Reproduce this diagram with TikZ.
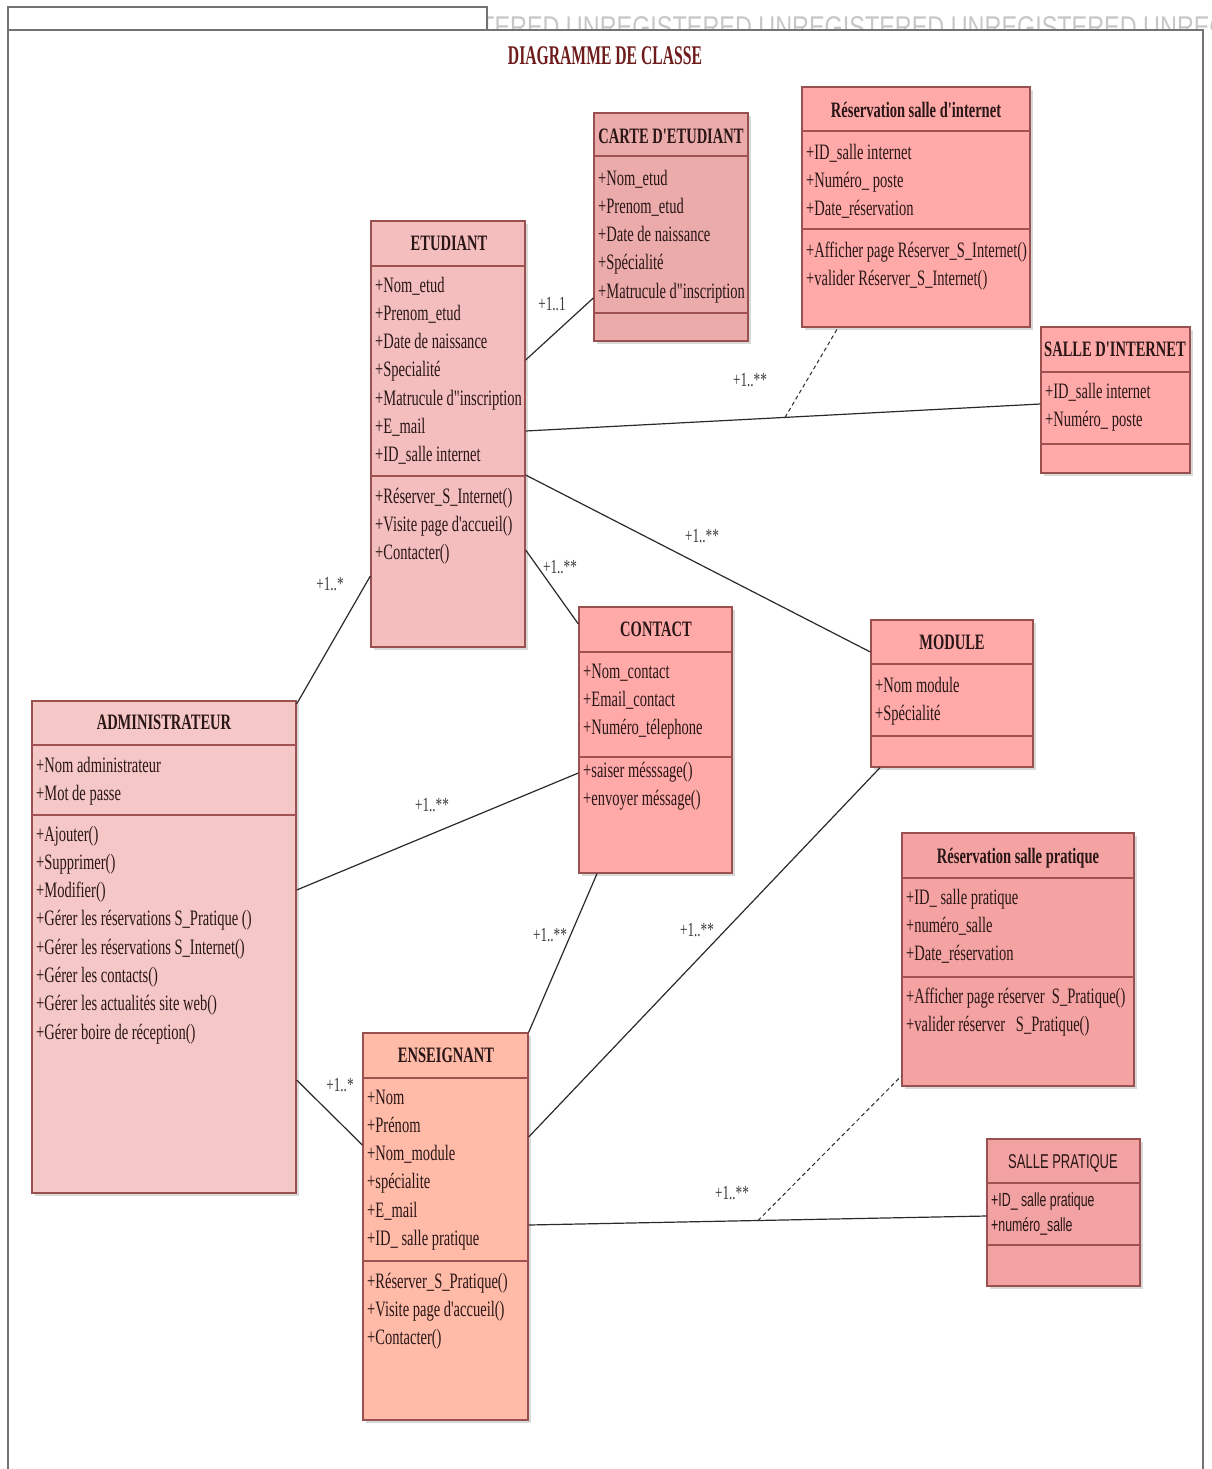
\documentclass[tikz,border=0pt]{standalone}
\usepackage{fontspec}
\setmainfont{Liberation Serif}
\newfontfamily\cond[FakeStretch=0.66]{Liberation Serif}
\newfontfamily\condt[FakeStretch=0.58]{Liberation Serif}
\newfontfamily\condsans[FakeStretch=0.65]{Liberation Sans}
\newfontfamily\wmfont[FakeStretch=0.78]{Liberation Sans}
\usetikzlibrary{fit,shadows}
\definecolor{bordc}{HTML}{9B5050}
\definecolor{sepc}{HTML}{A05252}
\definecolor{txtc}{HTML}{2A1616}
\definecolor{titc}{HTML}{6E1B1B}
\definecolor{linec}{HTML}{2A2A2A}
\definecolor{multc}{HTML}{3A3A3A}
\definecolor{cEtud}{HTML}{F4BEBE}
\definecolor{cCarte}{HTML}{EBABAB}
\definecolor{cRes}{HTML}{FFA9A9}
\definecolor{cAdmin}{HTML}{F5C7C7}
\definecolor{cResP}{HTML}{F4A2A2}
\definecolor{cEns}{HTML}{FFBAA8}
\definecolor{cSP}{HTML}{F2A2A2}
\tikzset{
  classbox/.style={draw=bordc, line width=1.3pt, inner sep=0pt,
    drop shadow={shadow xshift=3pt, shadow yshift=-3pt, opacity=0.15, fill=black}},
  sepline/.style={draw=sepc, line width=2pt},
  hdr/.style={font=\cond\bfseries\fontsize{22}{26}\selectfont, text=txtc, inner sep=0pt,
    text height=15pt, text depth=4pt},
  attr/.style={font=\cond\fontsize{22}{28.3}\selectfont, text=txtc, inner sep=0pt,
    align=left, anchor=base west},
  sattr/.style={font=\condsans\fontsize{19}{25}\selectfont, text=txtc, inner sep=0pt,
    align=left, anchor=base west},
  mult/.style={font=\cond\fontsize{20}{22}\selectfont, text=multc, inner sep=0pt},
  assoc/.style={draw=linec, line width=1.2pt},
  dep/.style={draw=linec, line width=1pt, dash pattern=on 4pt off 3pt}
}
\begin{document}
\begin{tikzpicture}[x=1pt,y=-1pt]
\useasboundingbox (0,0) rectangle (1211,1469);
\fill[white] (0,0) rectangle (1211,1469);
% watermark
\begin{scope}
\clip (487,6) rectangle (1211,30);
\node[font=\wmfont\fontsize{30}{30}\selectfont, text=black!22, anchor=base west, inner sep=0pt] (wm) at (480,38) {TERED UNREGISTERED UNREGISTERED UNREGISTERED UNREGISTERED};
\end{scope}
% frame
\draw[draw=black!55, line width=1.5pt] (8,7) rectangle (487,30);
\draw[draw=black!55, line width=1.5pt] (8,1475) -- (8,30) -- (1203,30) -- (1203,1475);
\node[font=\condt\bfseries\fontsize{27}{30}\selectfont, text=titc, inner sep=0pt] (title) at (605,56) {DIAGRAMME DE CLASSE};

% ETUDIANT
\node[classbox, fill=cEtud, fit={(371,221) (525,647)}] (etud) {};
\draw[sepline] (371,266) -- (525,266);
\draw[sepline] (371,476) -- (525,476);
\node[hdr] (etud-h) at (449,245) {ETUDIANT};
\node[attr] (etud-a) at (375,461.8) {+Nom\_etud\\+Prenom\_etud\\+Date de naissance\\+Specialité\\+Matrucule d"inscription\\+E\_mail\\+ID\_salle internet};
\node[attr] (etud-o) at (375,559.6) {+Réserver\_S\_Internet()\\+Visite page d'accueil()\\+Contacter()};

% CARTE D'ETUDIANT
\node[classbox, fill=cCarte, fit={(594,113) (748,341)}] (carte) {};
\draw[sepline] (594,156) -- (748,156);
\draw[sepline] (594,313) -- (748,313);
\node[hdr] (carte-h) at (671,138) {CARTE D'ETUDIANT};
\node[attr] (carte-a) at (598,298.2) {+Nom\_etud\\+Prenom\_etud\\+Date de naissance\\+Spécialité\\+Matrucule d"inscription};

% Reservation salle d'internet
\node[classbox, fill=cRes, fit={(802,87) (1030,327)}] (resint) {};
\draw[sepline] (802,131) -- (1030,131);
\draw[sepline] (802,229) -- (1030,229);
\node[hdr] (resint-h) at (916,112) {Réservation salle d'internet};
\node[attr] (resint-a) at (806,215.6) {+ID\_salle internet\\+Numéro\_ poste\\+Date\_réservation};
\node[attr] (resint-o) at (806,285.3) {+Afficher page Réserver\_S\_Internet()\\+valider Réserver\_S\_Internet()};

% SALLE D'INTERNET
\node[classbox, fill=cRes, fit={(1041,327) (1190,473)}] (sint) {};
\draw[sepline] (1041,372) -- (1190,372);
\draw[sepline] (1041,444) -- (1190,444);
\node[hdr] (sint-h) at (1115,351) {SALLE D'INTERNET};
\node[attr] (sint-a) at (1045,426.3) {+ID\_salle internet\\+Numéro\_ poste};

% MODULE
\node[classbox, fill=cRes, fit={(871,620) (1033,767)}] (module) {};
\draw[sepline] (871,664) -- (1033,664);
\draw[sepline] (871,736) -- (1033,736);
\node[hdr] (module-h) at (952,644) {MODULE};
\node[attr] (module-a) at (875,720.3) {+Nom module\\+Spécialité};

% CONTACT
\node[classbox, fill=cRes, fit={(579,607) (732,873)}] (contact) {};
\draw[sepline] (579,652) -- (732,652);
\draw[sepline] (579,757) -- (732,757);
\node[hdr] (contact-h) at (656,631) {CONTACT};
\node[attr] (contact-a) at (583,734.6) {+Nom\_contact\\+Email\_contact\\+Numéro\_télephone};
\node[attr] (contact-o) at (583,805.3) {+saiser mésssage()\\+envoyer méssage()};

% ADMINISTRATEUR
\node[classbox, fill=cAdmin, fit={(32,701) (296,1193)}] (admin) {};
\draw[sepline] (32,745) -- (296,745);
\draw[sepline] (32,815) -- (296,815);
\node[hdr] (admin-h) at (164,724) {ADMINISTRATEUR};
\node[attr] (admin-a) at (36,800.3) {+Nom administrateur\\+Mot de passe};
\node[attr] (admin-o) at (36,1039.1) {+Ajouter()\\+Supprimer()\\+Modifier()\\+Gérer les réservations S\_Pratique ()\\+Gérer les réservations S\_Internet()\\+Gérer les contacts()\\+Gérer les actualités site web()\\+Gérer boire de réception()};

% Reservation salle pratique
\node[classbox, fill=cResP, fit={(902,833) (1134,1086)}] (respr) {};
\draw[sepline] (902,878) -- (1134,878);
\draw[sepline] (902,977) -- (1134,977);
\node[hdr] (respr-h) at (1018,858) {Réservation salle pratique};
\node[attr] (respr-a) at (906,960.6) {+ID\_ salle pratique\\+numéro\_salle\\+Date\_réservation};
\node[attr] (respr-o) at (906,1031.3) {+Afficher page réserver\ \ S\_Pratique()\\+valider réserver\ \ \ S\_Pratique()};

% ENSEIGNANT
\node[classbox, fill=cEns, fit={(363,1033) (528,1420)}] (ens) {};
\draw[sepline] (363,1078) -- (528,1078);
\draw[sepline] (363,1261) -- (528,1261);
\node[hdr] (ens-h) at (446,1057) {ENSEIGNANT};
\node[attr] (ens-a) at (367,1245.5) {+Nom\\+Prénom\\+Nom\_module\\+spécialite\\+E\_mail\\+ID\_ salle pratique};
\node[attr] (ens-o) at (367,1344.6) {+Réserver\_S\_Pratique()\\+Visite page d'accueil()\\+Contacter()};

% SALLE PRATIQUE
\node[classbox, fill=cSP, fit={(987,1139) (1140,1286)}] (sprat) {};
\draw[sepline] (987,1183) -- (1140,1183);
\draw[sepline] (987,1245) -- (1140,1245);
\node[font=\condsans\fontsize{20}{24}\selectfont, text=txtc, inner sep=0pt, text height=15pt, text depth=4pt] (sprat-h) at (1063,1163) {SALLE PRATIQUE};
\node[sattr] (sprat-a) at (991,1231) {+ID\_ salle pratique\\+numéro\_salle};

% associations
\draw[assoc] (etud.east |- 0,360) -- (carte.west |- 0,298);
\draw[assoc] (etud.east |- 0,431) -- (sint.west |- 0,404);
\coordinate (d1) at (785,417.4);
\draw[dep] (d1) -- (resint.south -| 838,0);
\draw[assoc] (etud.east |- 0,475) -- (module.west |- 0,652);
\draw[assoc] (etud.east |- 0,550) -- (contact.west |- 0,624);
\draw[assoc] (admin.east |- 0,704) -- (etud.west |- 0,576);
\draw[assoc] (admin.east |- 0,890) -- (contact.west |- 0,773);
\draw[assoc] (admin.east |- 0,1080) -- (ens.west |- 0,1145);
\draw[assoc] (ens.north east) -- (contact.south -| 597,0);
\draw[assoc] (ens.east |- 0,1137) -- (module.south -| 880,0);
\draw[assoc] (ens.east |- 0,1225) -- (sprat.west |- 0,1216);
\coordinate (d2) at (758,1220.5);
\draw[dep] (d2) -- (respr.west |- 0,1076);

% multiplicities
\node[mult] (m1) at (552,304) {+1..1};
\node[mult] (m2) at (750,380) {+1..**};
\node[mult] (m3) at (702,536) {+1..**};
\node[mult] (m4) at (560,567) {+1..**};
\node[mult] (m5) at (330,584) {+1..*};
\node[mult] (m6) at (432,805) {+1..**};
\node[mult] (m7) at (340,1085) {+1..*};
\node[mult] (m8) at (550,935) {+1..**};
\node[mult] (m9) at (697,930) {+1..**};
\node[mult] (m10) at (732,1193) {+1..**};
\end{tikzpicture}
\end{document}
